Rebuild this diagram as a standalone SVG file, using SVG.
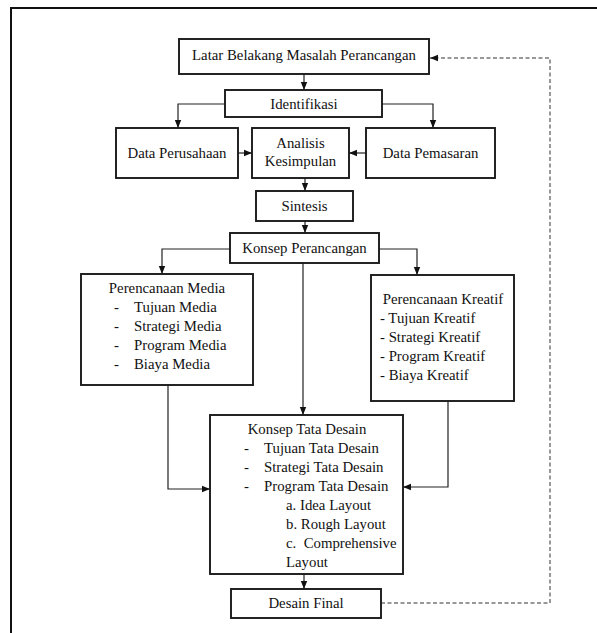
<svg xmlns="http://www.w3.org/2000/svg" width="597" height="633" viewBox="0 0 597 633">
<style>
.box{fill:#fff;stroke:#1a1a1a;stroke-width:1.9}
.t{font-family:"Liberation Serif","Times New Roman",serif;font-size:14.8px;fill:#111}
.c{text-anchor:middle}
.con{fill:none;stroke:#222;stroke-width:1.2}
.dash{fill:none;stroke:#777;stroke-width:1.5;stroke-dasharray:4 2.5}
</style>
<defs>
<marker id="ah" markerUnits="userSpaceOnUse" markerWidth="8" markerHeight="8" viewBox="0 0 8 8" refX="8" refY="4" orient="auto">
<path d="M0,0.8 L8,4 L0,7.2 Z" fill="#111"/>
</marker>
</defs>
<rect x="0" y="0" width="597" height="633" fill="#fff"/>
<path d="M11,633 V8 H597" fill="none" stroke="#111" stroke-width="2"/>

<g id="connectors">
<line class="con" x1="304" y1="74" x2="304" y2="90" marker-end="url(#ah)"/>
<path class="con" d="M225,104 H178 V128" marker-end="url(#ah)"/>
<path class="con" d="M382,104 H433 V128" marker-end="url(#ah)"/>
<line class="con" x1="238" y1="153" x2="252" y2="153" marker-end="url(#ah)"/>
<line class="con" x1="366" y1="153" x2="349" y2="153" marker-end="url(#ah)"/>
<line class="con" x1="305" y1="178" x2="305" y2="191" marker-end="url(#ah)"/>
<line class="con" x1="305" y1="221" x2="305" y2="233" marker-end="url(#ah)"/>
<path class="con" d="M230,249 H162 V274" marker-end="url(#ah)"/>
<path class="con" d="M379,249 H417 V275" marker-end="url(#ah)"/>
<line class="con" x1="303" y1="263" x2="303" y2="415" marker-end="url(#ah)"/>
<path class="con" d="M168,385 V489 H210" marker-end="url(#ah)"/>
<path class="con" d="M448,401 V487 H403" marker-end="url(#ah)"/>
<line class="con" x1="304" y1="574" x2="304" y2="589" marker-end="url(#ah)"/>
<path class="dash" d="M381,603 H550 V58 H430" marker-end="url(#ah)"/>
</g>

<g id="latar">
<rect class="box" x="179" y="39" width="250" height="35"/>
<text class="t c" x="304" y="60">Latar Belakang Masalah Perancangan</text>
</g>
<g id="identifikasi">
<rect class="box" x="225" y="90" width="157" height="27"/>
<text class="t c" x="304" y="109">Identifikasi</text>
</g>
<g id="data-perusahaan">
<rect class="box" x="116" y="128" width="122" height="50"/>
<text class="t c" x="177" y="158">Data Perusahaan</text>
</g>
<g id="analisis">
<rect class="box" x="252" y="128" width="97" height="50"/>
<text class="t c" x="300.5" y="148">Analisis</text>
<text class="t c" x="300.5" y="166">Kesimpulan</text>
</g>
<g id="data-pemasaran">
<rect class="box" x="366" y="128" width="129" height="50"/>
<text class="t c" x="430.5" y="158">Data Pemasaran</text>
</g>
<g id="sintesis">
<rect class="box" x="256" y="191" width="97" height="30"/>
<text class="t c" x="304.5" y="211">Sintesis</text>
</g>
<g id="konsep-perancangan">
<rect class="box" x="230" y="233" width="149" height="30"/>
<text class="t c" x="304.5" y="253">Konsep Perancangan</text>
</g>
<g id="perencanaan-media">
<rect class="box" x="81" y="274" width="172" height="111"/>
<text class="t c" x="167" y="293">Perencanaan Media</text>
<text class="t" x="114" y="312">-</text><text class="t" x="134" y="312">Tujuan Media</text>
<text class="t" x="114" y="331">-</text><text class="t" x="134" y="331">Strategi Media</text>
<text class="t" x="114" y="350">-</text><text class="t" x="134" y="350">Program Media</text>
<text class="t" x="114" y="369">-</text><text class="t" x="134" y="369">Biaya Media</text>
</g>
<g id="perencanaan-kreatif">
<rect class="box" x="371" y="275" width="143" height="126"/>
<text class="t c" x="443" y="304">Perencanaan Kreatif</text>
<text class="t" x="380" y="323">- Tujuan Kreatif</text>
<text class="t" x="380" y="342">- Strategi Kreatif</text>
<text class="t" x="380" y="361">- Program Kreatif</text>
<text class="t" x="380" y="380">- Biaya Kreatif</text>
</g>
<g id="konsep-tata-desain">
<rect class="box" x="210" y="415" width="193" height="159"/>
<text class="t c" x="307" y="434">Konsep Tata Desain</text>
<text class="t" x="244" y="453">-</text><text class="t" x="264" y="453">Tujuan Tata Desain</text>
<text class="t" x="244" y="472">-</text><text class="t" x="264" y="472">Strategi Tata Desain</text>
<text class="t" x="244" y="491">-</text><text class="t" x="264" y="491">Program Tata Desain</text>
<text class="t" x="286" y="510">a. Idea Layout</text>
<text class="t" x="286" y="529">b. Rough Layout</text>
<text class="t" x="286" y="548" style="white-space:pre">c.  Comprehensive</text>
<text class="t" x="286" y="567">Layout</text>
</g>
<g id="desain-final">
<rect class="box" x="231" y="589" width="150" height="29"/>
<text class="t c" x="306" y="608">Desain Final</text>
</g>
</svg>
